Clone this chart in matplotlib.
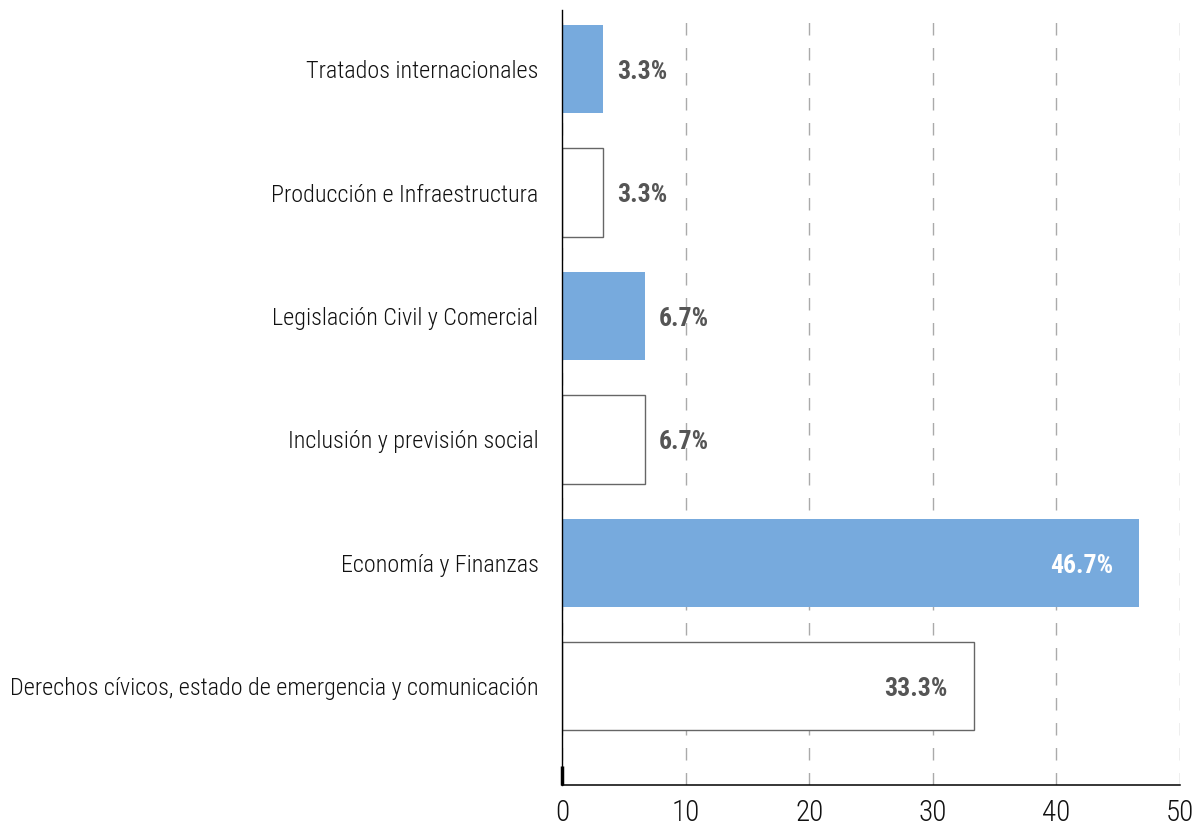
import numpy as np
import matplotlib.pyplot as plt

categories = [
    "Derechos cívicos, estado de emergencia y comunicación",
    "Economía y Finanzas",
    "Inclusión y previsión social",
    "Legislación Civil y Comercial",
    "Producción e Infraestructura",
    "Tratados internacionales",
]
values = [33.3, 46.7, 6.7, 6.7, 3.3, 3.3]
filled = [False, True, False, True, False, True]
xticks = [0, 10, 20, 30, 40, 50]

plt.rcParams['font.family'] = ['Roboto Condensed', 'Roboto', 'DejaVu Sans']

fig = plt.figure(figsize=(12.03, 8.30), dpi=100)
ax = fig.add_axes([0.4672, 0.0542, 0.9809 - 0.4672, 0.988 - 0.0542])

blue = '#77aadd'
y = np.arange(len(categories))
for i, (v, f) in enumerate(zip(values, filled)):
    if f:
        ax.barh(y[i], v, height=0.715, color=blue, edgecolor='none', zorder=2)
    else:
        ax.barh(y[i], v, height=0.715, color='white', edgecolor='#666666', linewidth=1, zorder=2)
    label = f"{v:.1f}%"
    # big bars get the label inside, small ones just after the end
    if v > 20:
        ax.annotate(label, (v, y[i]), xytext=(-19, -2), textcoords='offset points',
                    ha='right', va='center', fontsize=18.5, fontweight='bold',
                    color='white' if f else '#555555', zorder=3)
    else:
        ax.annotate(label, (v, y[i]), xytext=(10, -2), textcoords='offset points',
                    ha='left', va='center', fontsize=18.5, fontweight='bold',
                    color='#555555', zorder=3)

ax.set_yticks(y)
ax.set_yticklabels(categories, fontsize=17.4, fontweight='light', color='#111111')
ax.set_xlim(0, 50)
ax.set_ylim(-0.80, 5.48)
ax.set_xticks(xticks)
ax.set_xticklabels([str(t) for t in xticks], fontsize=21, fontweight='light', color='#111111')
ax.tick_params(axis='x', which='major', length=0, pad=10)
ax.tick_params(axis='y', which='major', length=0, pad=17)

ax.xaxis.remove_overlapping_locs = False
ax.set_xticks([0], minor=True)
ax.tick_params(axis='x', which='minor', direction='in', length=14, width=2.5, color='black')

ax.grid(axis='x', color='#aaaaaa', linestyle=(0, (9, 9)), linewidth=1, zorder=0)
ax.spines['top'].set_visible(False)
ax.spines['right'].set_visible(False)
ax.spines['left'].set_color('black')
ax.spines['left'].set_linewidth(1)
ax.spines['bottom'].set_color('black')
ax.spines['bottom'].set_linewidth(1.1)

fig.savefig('out.png', dpi=100)
